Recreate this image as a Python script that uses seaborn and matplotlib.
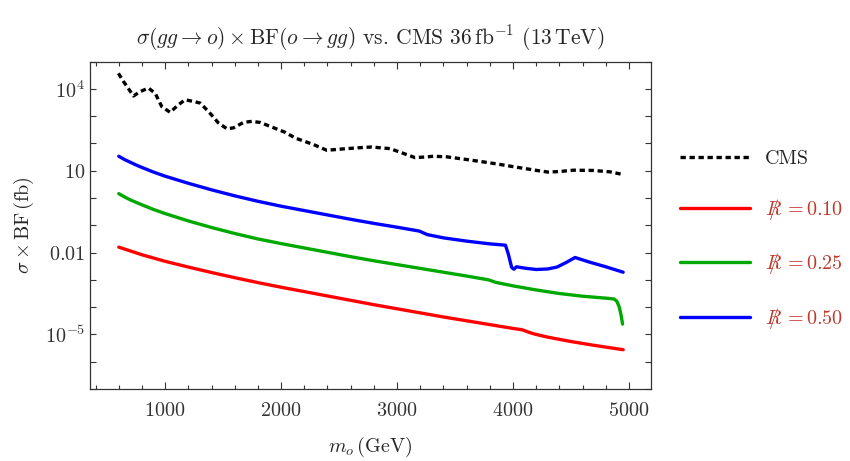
import numpy as np
import pandas as pd
import matplotlib
matplotlib.use("Agg")
import matplotlib.pyplot as plt
import seaborn as sns
from matplotlib.ticker import FixedLocator, FuncFormatter, MultipleLocator
from matplotlib.lines import Line2D

# ---------------- data (log10 of sigma x BF in fb) ----------------
cms_mass = [597, 641, 727, 784, 856, 914, 971, 1043, 1115, 1172, 1244, 1302, 1374, 1460,
            1532, 1589, 1675, 1747, 1819, 1891, 1963, 2034, 2121, 2200, 2279, 2394, 2537,
            2660, 2782, 2940, 3026, 3155, 3230, 3313, 3428, 3601, 3750, 3888, 4000, 4118,
            4220, 4305, 4400, 4520, 4692, 4836, 4950]
cms_log = [4.57, 4.27, 3.74, 3.90, 4.03, 3.84, 3.35, 3.14, 3.42, 3.60, 3.54, 3.48, 3.17, 2.75,
           2.54, 2.57, 2.77, 2.81, 2.77, 2.65, 2.53, 2.41, 2.20, 2.08, 1.96, 1.75, 1.80,
           1.84, 1.87, 1.81, 1.68, 1.48, 1.50, 1.53, 1.51, 1.41, 1.32, 1.23, 1.15, 1.07,
           1.00, 0.95, 0.97, 1.02, 1.01, 0.96, 0.86]

r10_mass = [600, 800, 1000, 1200, 1400, 1600, 1800, 2000, 2200, 2400, 2600, 2800, 3000,
            3200, 3400, 3600, 3800, 4000, 4080, 4130, 4180, 4300, 4500, 4700, 4950]
r10_log = [-1.80, -2.08, -2.32, -2.53, -2.73, -2.92, -3.10, -3.27, -3.43, -3.59, -3.75,
           -3.91, -4.06, -4.21, -4.36, -4.50, -4.64, -4.78, -4.83, -4.91, -4.98, -5.10,
           -5.26, -5.40, -5.56]

r25_mass = [600, 650, 700, 800, 900, 1000, 1200, 1400, 1600, 1800, 2000, 2200, 2400, 2600,
            2800, 3000, 3200, 3400, 3600, 3790, 3850, 4000, 4200, 4400, 4600, 4800, 4870,
            4895, 4915, 4930, 4945]
r25_log = [0.16, 0.04, -0.07, -0.25, -0.42, -0.57, -0.84, -1.08, -1.30, -1.50, -1.67,
           -1.83, -1.99, -2.15, -2.30, -2.44, -2.58, -2.72, -2.86, -3.00, -3.09, -3.22,
           -3.37, -3.50, -3.60, -3.67, -3.70, -3.78, -3.98, -4.25, -4.62]

r50_mass = [600, 650, 700, 750, 800, 900, 1000, 1200, 1400, 1600, 1800, 2000, 2200, 2400,
            2600, 2800, 3000, 3190, 3260, 3400, 3600, 3800, 3935, 3960, 3988, 4008, 4030,
            4100, 4200, 4300, 4380, 4460, 4535, 4660, 4800, 4950]
r50_log = [1.53, 1.41, 1.31, 1.21, 1.12, 0.95, 0.80, 0.54, 0.30, 0.08, -0.12, -0.30,
           -0.46, -0.62, -0.78, -0.93, -1.07, -1.21, -1.34, -1.46, -1.58, -1.68, -1.73,
           -2.06, -2.54, -2.61, -2.52, -2.57, -2.62, -2.60, -2.53, -2.36, -2.18, -2.35,
           -2.52, -2.72]

labels = ["CMS", r"$R\!\!\!\!/\; = 0.10$", r"$R\!\!\!\!/\; = 0.25$", r"$R\!\!\!\!/\; = 0.50$"]
colors = ["#000000", "#ff0000", "#00a800", "#0000ff"]

ytick_vals = [1e-5, 1e-2, 1e1, 1e4]
ytick_labels = [r"$10^{-5}$", r"$0.01$", r"$10$", r"$10^{4}$"]

frames = []
for lab, m, lg in zip(labels, [cms_mass, r10_mass, r25_mass, r50_mass],
                      [cms_log, r10_log, r25_log, r50_log]):
    frames.append(pd.DataFrame({"mass": m, "val": np.power(10.0, lg), "series": lab}))
df = pd.concat(frames, ignore_index=True)

# ---------------- style ----------------
sns.set_theme(style="ticks")
plt.rcParams.update({
    "font.family": "serif",
    "font.serif": ["cmr10", "DejaVu Serif"],
    "mathtext.fontset": "cm",
    "axes.formatter.use_mathtext": True,
    "xtick.direction": "in",
    "ytick.direction": "in",
    "xtick.top": True,
    "ytick.right": True,
    "axes.edgecolor": "#333333",
    "xtick.color": "#333333",
    "ytick.color": "#333333",
    "axes.linewidth": 0.9,
})

fig = plt.figure(figsize=(8.5, 4.61), dpi=100)
ax = fig.add_axes([90 / 850, 72 / 461, (651 - 90) / 850, (389 - 61.6) / 461])

palette = dict(zip(labels, colors))
sns.lineplot(data=df, x="mass", y="val", hue="series", palette=palette,
             hue_order=labels, ax=ax, linewidth=2.4, legend=False, sort=False,
             estimator=None)
ax.lines[0].set_linestyle((0, (1.6, 1.1)))

ax.set_yscale("log")
ax.set_ylim(1e-7, 1e5)
ax.set_xlim(352, 5190)

ax.yaxis.set_major_locator(FixedLocator([10.0 ** k for k in range(-7, 6)]))
lab_map = dict(zip([round(np.log10(v)) for v in ytick_vals], ytick_labels))
ax.yaxis.set_major_formatter(FuncFormatter(
    lambda v, p: lab_map.get(int(round(np.log10(v))), "") if v > 0 else ""))
ax.yaxis.set_minor_locator(FixedLocator([]))
ax.xaxis.set_major_locator(MultipleLocator(1000))
ax.xaxis.set_minor_locator(MultipleLocator(200))

ax.tick_params(axis="both", which="major", labelsize=14.5, length=5, width=0.8)
ax.tick_params(axis="x", which="minor", length=2.6, width=0.8)
ax.tick_params(axis="y", which="major", length=4.5)
ax.tick_params(axis="x", which="major", pad=9)

ax.set_xlabel(r"$m_o\,(\mathrm{GeV})$", fontsize=14.5, labelpad=11)
ax.set_ylabel(r"$\sigma\times\mathrm{BF}\,(\mathrm{fb})$", fontsize=14.5, labelpad=6)
ax.set_title(r"$\sigma(gg\to o)\times\mathrm{BF}(o\to gg)$ vs. CMS $36\,\mathrm{fb}^{-1}$ $(13\,\mathrm{TeV})$",
             fontsize=15.5, pad=12)

handles = [Line2D([], [], color=colors[0], lw=2.4, linestyle=(0, (1.6, 1.1)))] + \
          [Line2D([], [], color=c, lw=2.4) for c in colors[1:]]
leg = fig.legend(handles, labels, loc="upper left", bbox_to_anchor=(680 / 850, 1 - 150 / 461),
                 frameon=False, fontsize=14.5, handlelength=3.5, handletextpad=0.7,
                 labelspacing=1.45, borderpad=0, borderaxespad=0)
for t in leg.get_texts()[1:]:
    t.set_color("#c0392b")

fig.savefig("out.png", dpi=100)
